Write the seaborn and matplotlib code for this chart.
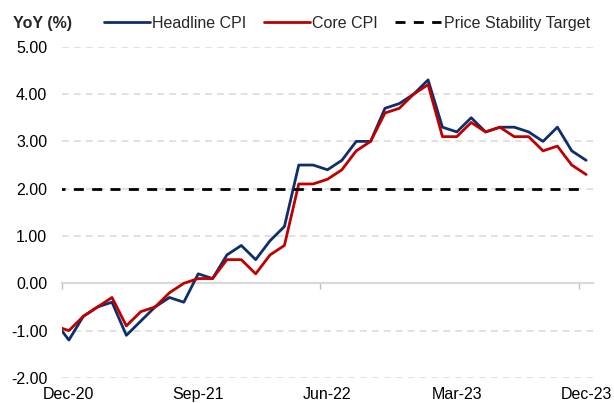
import matplotlib
matplotlib.use("Agg")
import pandas as pd
import matplotlib.pyplot as plt
import seaborn as sns

# -------------------------------------------------------
# Data (monthly, Nov-20 to Dec-23; first point sits just off the left edge)
# -------------------------------------------------------

months = pd.date_range("2020-11-01", periods=38, freq="MS").strftime("%b-%y").tolist()

headline_cpi = [
    -0.8, -1.2, -0.7, -0.5, -0.4, -1.1, -0.8, -0.5, -0.3, -0.4,
    0.2, 0.1, 0.6, 0.8, 0.5, 0.9, 1.2, 2.5, 2.5, 2.4,
    2.6, 3.0, 3.0, 3.7, 3.8, 4.0, 4.3, 3.3, 3.2, 3.5,
    3.2, 3.3, 3.3, 3.2, 3.0, 3.3, 2.8, 2.6,
]

core_cpi = [
    -0.9, -1.0, -0.7, -0.5, -0.3, -0.9, -0.6, -0.5, -0.2, 0.0,
    0.1, 0.1, 0.5, 0.5, 0.2, 0.6, 0.8, 2.1, 2.1, 2.2,
    2.4, 2.8, 3.0, 3.6, 3.7, 4.0, 4.2, 3.1, 3.1, 3.4,
    3.2, 3.3, 3.1, 3.1, 2.8, 2.9, 2.5, 2.3,
]

target = [2.0] * len(months)

tick_months = ["Dec-20", "Sep-21", "Jun-22", "Mar-23", "Dec-23"]
y_ticks = [-2, -1, 0, 1, 2, 3, 4, 5]

series_names = ["Headline CPI", "Core CPI", "Price Stability Target"]
colors = {"Headline CPI": "#0E2F6B", "Core CPI": "#C00000", "Price Stability Target": "black"}
dashes = {"Headline CPI": "", "Core CPI": "", "Price Stability Target": (3.6, 3.0)}

# -------------------------------------------------------
# Plot Style
# -------------------------------------------------------

sns.set_theme(style="white")
plt.rcParams["font.family"] = ["Liberation Sans", "DejaVu Sans"]
plt.rcParams["font.size"] = 11.5

df = pd.DataFrame({
    "idx": range(len(months)),
    "Headline CPI": headline_cpi,
    "Core CPI": core_cpi,
    "Price Stability Target": target,
})
long_df = df.melt(id_vars="idx", var_name="Series", value_name="YoY")

fig = plt.figure(figsize=(6.14, 4.03), dpi=100)
ax = fig.add_axes([0.1005, 0.0623, 0.8658, 0.8216])

sns.lineplot(
    data=long_df,
    x="idx",
    y="YoY",
    hue="Series",
    style="Series",
    hue_order=series_names,
    style_order=series_names,
    palette=colors,
    dashes=dashes,
    linewidth=2,
    ax=ax,
)

# -------------------------------------------------------
# Axes
# -------------------------------------------------------

ax.set_xlim(0.5, 37.5)
ax.set_ylim(-2, 5)

ax.set_yticks(y_ticks, labels=[f"{v:.2f}" for v in y_ticks])
ax.set_xticks([months.index(m) for m in tick_months], labels=tick_months)
ax.tick_params(axis="both", length=0, labelsize=11.5, labelcolor="black")
ax.tick_params(axis="y", pad=10.4)
ax.tick_params(axis="x", pad=6.3)

ax.grid(axis="y", color="#D9D9D9", linestyle=(0, (4.5, 3.3)), linewidth=1.1)
ax.set_axisbelow(True)
for s in ax.spines.values():
    s.set_visible(False)

ax.set_xlabel("")
ax.set_ylabel("")

# category axis crossing at zero
zero_axis = ax.secondary_xaxis(2 / 7)
zero_axis.set_xticks([0.5, 18.5, 36.5])
zero_axis.tick_params(length=4, width=1, color="#BFBFBF", labelbottom=False)
zero_axis.spines["bottom"].set_color("#D9D9D9")
zero_axis.spines["bottom"].set_linewidth(1.6)

# -------------------------------------------------------
# Legend / header
# -------------------------------------------------------

handles, labels = ax.get_legend_handles_labels()
ax.get_legend().remove()

fig.legend(
    handles,
    labels,
    loc="center left",
    bbox_to_anchor=(95.7 / 614, 1 - 23.3 / 403),
    ncol=3,
    frameon=False,
    borderpad=0,
    handlelength=2.875,
    handletextpad=0.15,
    columnspacing=1.1,
    fontsize=11.5,
)

fig.text(12.7 / 614, 1 - 23.3 / 403, "YoY (%)", fontweight="bold", fontsize=11.5, va="center")

fig.savefig("out.png", dpi=100)
plt.close(fig)
